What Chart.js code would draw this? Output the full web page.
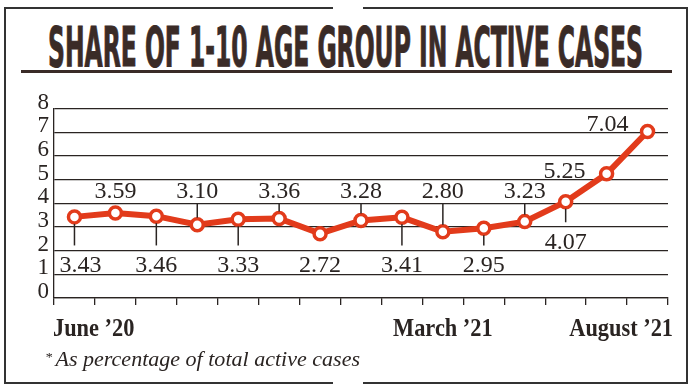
<!DOCTYPE html>
<html>
<head>
<meta charset="utf-8">
<script src="https://cdn.jsdelivr.net/npm/chart.js"></script>
<style>
  html, body { margin: 0; padding: 0; background: #fff; }
  #wrap { position: relative; width: 697px; height: 389px; overflow: hidden; background: #fff; }
  #frame { position: absolute; left: 4px; top: 7px; width: 684px; height: 377px; box-sizing: border-box; border: 2px solid #333; }
  .gap { position: absolute; left: 333px; width: 30px; height: 6px; background: #fff; }
  #title { position: absolute; left: 48px; top: 19px; font-family: "Liberation Sans Narrow", "DejaVu Sans Condensed", sans-serif; font-weight: bold; font-size: 56px; line-height: 56px; color: #3a2b27; white-space: nowrap; transform-origin: 0 0; -webkit-text-stroke: 1px #3a2b27; }
  #rule { position: absolute; left: 21px; top: 70px; width: 651px; height: 3px; background: #3a2b27; }
  #note { position: absolute; left: 45px; top: 347px; font-family: "Liberation Serif", serif; font-style: italic; font-size: 20px; line-height: 20px; color: #2a2422; white-space: nowrap; transform-origin: 0 0; }
  #note sup { font-size: 13px; vertical-align: 5px; margin-right: 3px; }
  #chart { position: absolute; left: 0; top: 90px; }
</style>
</head>
<body>
<div id="wrap">
  <div id="frame"></div>
  <div class="gap" style="top:5px"></div>
  <div class="gap" style="top:380px"></div>
  <div id="title">SHARE OF 1-10 AGE GROUP IN ACTIVE CASES</div>
  <div id="rule"></div>
  <canvas id="chart" width="697" height="260"></canvas>
  <div id="note"><sup>*</sup>As percentage of total active cases</div>
</div>
<script>
// monthly share of the 1-10 age group in active cases (%)
const months = ['Jun 2020', 'Jul 2020', 'Aug 2020', 'Sep 2020', 'Oct 2020', 'Nov 2020', 'Dec 2020',
  'Jan 2021', 'Feb 2021', 'Mar 2021', 'Apr 2021', 'May 2021', 'Jun 2021', 'Jul 2021', 'Aug 2021'];
const shares = [3.43, 3.59, 3.46, 3.10, 3.33, 3.36, 2.72, 3.28, 3.41, 2.80, 2.95, 3.23, 4.07, 5.25, 7.04];
const xTickLabels = ['June \u201920', '', '', '', '', '', '', '', '', 'March \u201921', '', '', '', '', 'August \u201921'];

const INK = '#2a2422';
const RED = '#e23b1b';

// fit title to the rule width
const title = document.getElementById('title');
title.style.transform = 'scaleX(' + (595 / title.getBoundingClientRect().width) + ')';
const note = document.getElementById('note');
note.style.transform = 'scaleX(' + (315 / note.getBoundingClientRect().width) + ')';

// where each value label goes
const placement = [
  { side: 'below', leader: true, dx: 6 },
  { side: 'above', leader: false },
  { side: 'below', leader: true },
  { side: 'above', leader: true },
  { side: 'below', leader: true },
  { side: 'above', leader: true },
  { side: 'below', leader: false },
  { side: 'above', leader: true },
  { side: 'below', leader: true },
  { side: 'above', leader: true },
  { side: 'below', leader: true },
  { side: 'above', leader: true },
  { side: 'below', leader: true, at: 2.42 },
  { side: 'left', at: 5.45, dx: -42 },
  { side: 'left', at: 7.44, dx: -40 }
];

const valueLabels = {
  id: 'valueLabels',
  afterDatasetsDraw(chart) {
    const ctx = chart.ctx;
    const y = chart.scales.y;
    const pts = chart.getDatasetMeta(0).data;
    ctx.save();
    ctx.font = '24px "Liberation Serif", serif';
    ctx.fillStyle = INK;
    ctx.strokeStyle = INK;
    ctx.lineWidth = 1.5;
    ctx.textAlign = 'center';
    ctx.textBaseline = 'alphabetic';
    pts.forEach((p, i) => {
      const pl = placement[i];
      let at = pl.at;
      if (at === undefined) at = pl.side === 'above' ? 4.58 : 1.44;
      const cy = y.getPixelForValue(at);
      if (pl.leader) {
        ctx.beginPath();
        if (pl.side === 'above') {
          ctx.moveTo(p.x, cy + 13.5);
          ctx.lineTo(p.x, p.y - 7);
        } else {
          ctx.moveTo(p.x, p.y + 7);
          ctx.lineTo(p.x, cy - 18.5);
        }
        ctx.stroke();
      }
      ctx.fillText(shares[i].toFixed(2), p.x + (pl.dx || 0), cy + 8.5);
    });
    ctx.restore();
  },
  afterDraw(chart) {
    // month labels under the axis
    const ctx = chart.ctx;
    const x = chart.scales.x;
    const half = (x.getPixelForValue(1) - x.getPixelForValue(0)) / 2;
    const base = x.top + 38;
    ctx.save();
    ctx.font = 'bold 26px "Liberation Serif", serif';
    ctx.fillStyle = INK;
    ctx.textBaseline = 'alphabetic';
    xTickLabels.forEach((lab, i) => {
      if (!lab) return;
      const w = ctx.measureText(lab).width * 0.86;
      const px = x.getPixelForValue(i);
      let left;
      if (i === 0) left = px - half - 1;
      else if (i === xTickLabels.length - 1) left = px + half + 5 - w;
      else left = px - w / 2;
      ctx.save();
      ctx.translate(left, base);
      ctx.scale(0.86, 1);
      ctx.textAlign = 'left';
      ctx.fillText(lab, 0, 0);
      ctx.restore();
    });
    ctx.restore();
  }
};

const chart = new Chart(document.getElementById('chart'), {
  type: 'line',
  data: {
    labels: months,
    datasets: [{
      data: shares,
      borderColor: RED,
      borderWidth: 6,
      pointRadius: 6,
      pointBorderWidth: 3.5,
      pointBackgroundColor: '#fff',
      pointBorderColor: RED,
      tension: 0
    }]
  },
  options: {
    responsive: false,
    devicePixelRatio: 1,
    animation: false,
    layout: { padding: { top: 16, right: 29, bottom: 12, left: 0 } },
    plugins: { legend: { display: false }, tooltip: { enabled: false } },
    scales: {
      x: {
        offset: true,
        grid: { offset: true, drawOnChartArea: false, drawTicks: true, tickLength: 7, color: INK, lineWidth: 1.3 },
        border: { display: true, color: INK, width: 1.3 },
        ticks: { display: false },
        afterFit(scale) { scale.height = 40; }
      },
      y: {
        min: 0,
        max: 8,
        ticks: { stepSize: 1, autoSkip: false, padding: 5, labelOffset: -6, color: INK, font: { family: '"Liberation Serif", serif', size: 23 } },
        grid: { drawTicks: false, color: INK, lineWidth: 1.3 },
        border: { display: true, color: INK, width: 1.3 },
        afterFit(scale) { scale.width = 54; }
      }
    }
  },
  plugins: [valueLabels]
});
</script>
</body>
</html>
